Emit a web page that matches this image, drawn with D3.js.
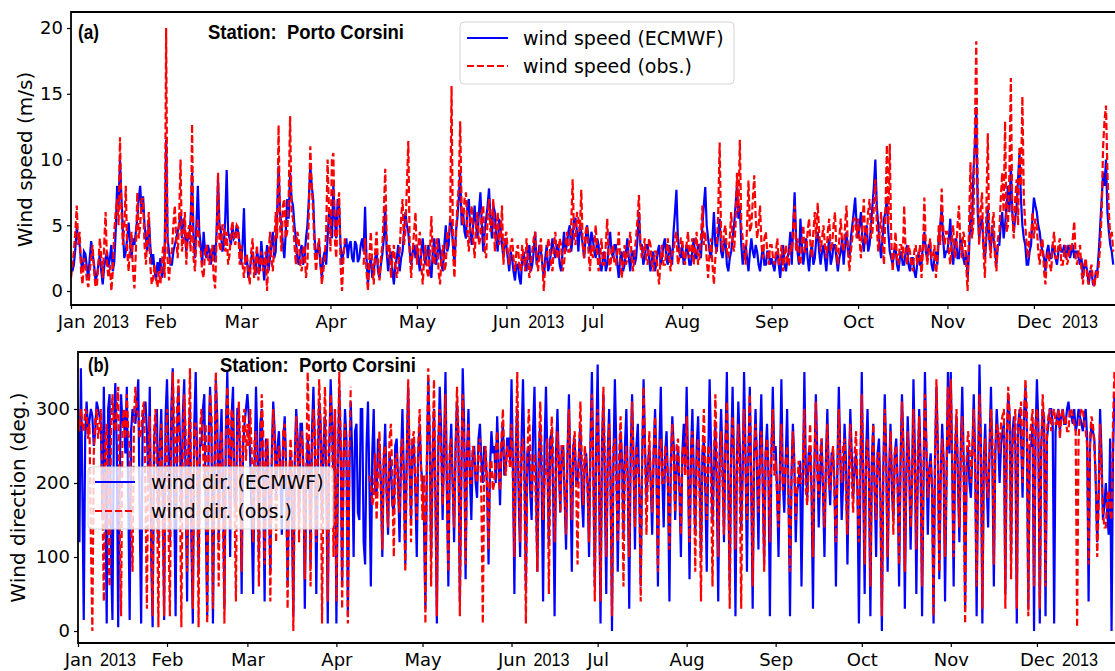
<!DOCTYPE html>
<html>
<head>
<meta charset="utf-8">
<script src="https://d3js.org/d3.v7.min.js"></script>
<style>
body { margin: 0; background: #fff; }
svg { display: block; }
</style>
</head>
<body>
<script>
// 12-hourly values, 1 Jan - 28 Dec 2013 (one row per month)
var speedEcmwf = [
 2.5,1.5,2.0,3.2,4.8,4.0,3.5,2.2,1.5,3.0,2.8,1.8,1.0,2.5,3.8,2.8,2.0,0.8,1.2,2.0,2.8,1.5,0.5,1.8,2.5,3.0,1.8,2.5,3.5,1.5,2.2,4.5,8.0,6.5,10.0,7.0,4.5,2.5,3.0,4.0,5.2,3.5,2.5,4.0,3.5,4.5,5.5,7.0,8.0,6.0,7.2,5.0,4.0,3.0,5.5,3.5,2.0,2.8,1.5,0.8,2.2,1.5,
 2.5,1.0,1.5,3.0,11.5,4.0,3.0,2.0,2.0,3.0,3.5,4.0,4.5,5.0,6.0,4.0,5.5,4.5,3.0,4.0,4.0,5.5,9.0,4.0,2.5,5.0,8.0,4.5,3.5,2.0,4.5,3.0,2.5,3.5,3.0,2.0,2.8,3.5,2.2,4.5,8.5,5.0,4.5,3.0,3.5,5.5,9.2,4.5,4.0,3.5,5.0,4.0,4.2,5.0,4.5,3.5,
 2.0,3.5,6.3,2.0,2.5,1.0,1.5,2.5,3.0,2.0,1.2,3.0,2.5,1.5,3.8,2.5,0.8,2.0,3.5,1.5,2.5,3.5,4.5,2.5,3.0,6.0,9.5,6.0,5.0,3.5,2.5,4.5,7.0,5.5,9.0,7.0,6.5,5.0,4.0,2.5,2.0,3.0,3.5,2.0,2.5,4.0,5.0,7.0,9.5,8.0,7.0,4.0,2.5,3.0,3.8,2.0,1.0,2.5,3.0,2.0,4.0,6.0,
 5.5,4.0,8.0,5.5,4.0,7.0,6.5,3.5,2.0,3.0,3.5,4.0,2.5,3.5,3.8,2.5,2.2,3.8,3.5,2.2,2.5,3.5,4.0,3.0,6.4,2.5,0.5,2.0,2.5,1.0,1.5,2.5,3.0,1.5,1.0,2.0,2.8,4.0,6.5,3.0,1.5,2.5,3.0,1.5,0.5,2.0,2.5,3.5,1.5,2.5,3.0,4.5,6.0,5.0,4.5,3.0,2.0,3.0,3.5,2.5,
 3.5,2.5,1.5,3.0,4.0,2.5,2.0,3.0,3.5,1.5,1.0,3.0,4.0,2.0,2.5,4.0,3.0,2.0,1.5,3.5,5.0,3.0,3.5,5.5,5.0,3.5,2.0,4.5,5.5,7.0,9.0,5.0,6.0,4.5,4.0,6.5,7.0,4.5,3.5,5.0,6.5,5.0,4.0,6.0,7.5,5.0,3.0,4.5,5.5,6.5,7.8,5.5,4.0,6.5,6.0,4.0,3.0,5.5,5.0,3.5,2.5,4.0,
 3.5,2.5,1.5,3.0,2.5,1.5,0.8,2.0,2.0,1.0,0.5,2.5,3.0,2.0,1.5,3.0,3.5,1.5,2.0,3.0,4.5,2.0,2.5,3.5,3.0,2.0,1.0,2.5,3.5,1.5,2.0,3.0,4.0,3.0,2.5,3.5,3.5,2.0,1.5,3.0,4.5,3.0,3.5,4.5,5.0,3.0,4.0,5.5,5.5,4.5,3.0,5.0,4.5,3.5,2.5,4.0,5.0,4.0,3.0,4.5,
 4.0,3.0,2.5,4.0,3.5,2.0,1.5,2.5,3.0,1.5,2.0,3.5,4.5,3.0,2.5,3.5,3.5,2.0,1.0,2.5,3.0,1.5,2.0,3.0,4.0,2.5,1.5,3.0,3.0,2.0,2.5,4.0,6.0,3.5,3.5,2.0,2.5,3.5,3.5,2.5,1.5,2.5,3.0,1.5,2.0,3.0,3.5,2.0,2.5,3.5,4.0,2.5,2.0,3.5,3.0,2.0,4.5,6.0,7.7,4.0,3.0,2.5,
 3.5,2.0,2.5,3.5,3.0,2.0,2.0,3.0,4.0,2.5,2.5,3.5,3.5,2.5,5.0,6.5,7.9,5.0,4.0,3.0,2.5,4.0,6.0,3.5,3.0,4.5,5.5,3.0,2.5,3.5,4.0,2.0,1.5,2.5,3.0,4.0,5.0,6.5,8.0,5.5,6.5,3.5,2.0,3.0,3.5,2.5,1.5,3.0,4.0,3.0,2.5,3.5,3.0,2.0,1.5,2.5,3.5,2.0,2.0,3.0,3.0,2.0,
 2.5,2.0,1.5,2.5,3.0,2.0,1.0,2.5,3.5,2.0,1.5,2.5,3.0,4.5,2.0,5.0,7.5,4.0,3.0,2.0,5.5,3.5,2.0,3.0,4.0,2.5,1.5,3.0,3.5,2.0,2.5,4.0,4.5,3.0,2.0,3.0,3.5,2.5,1.5,3.0,4.0,2.0,2.5,3.5,3.5,2.5,1.5,2.5,3.0,4.0,2.0,3.5,4.5,3.0,2.5,4.0,5.0,6.0,7.1,5.0,
 4.0,5.0,6.0,4.0,3.0,4.5,5.0,3.0,3.5,5.0,6.5,8.0,10.0,6.5,5.0,3.5,2.5,4.0,5.5,6.0,7.0,4.5,3.0,2.5,2.0,3.0,3.5,2.0,1.5,2.5,3.0,2.0,2.0,3.0,3.5,2.0,1.5,2.5,2.5,1.5,1.0,2.0,3.0,2.0,2.0,3.5,4.5,3.0,2.5,3.5,3.5,2.0,1.5,2.5,3.0,2.0,4.0,5.0,6.3,4.0,2.5,3.0,
 3.0,4.0,5.5,3.0,2.0,3.5,4.0,2.5,2.5,4.0,3.5,2.5,2.0,3.0,1.0,3.0,6.0,4.5,9.0,11.0,14.0,6.0,4.0,5.0,5.5,3.5,2.5,4.0,6.5,4.0,3.0,5.0,4.0,3.0,2.0,3.5,3.5,5.0,6.0,4.0,5.0,6.5,8.0,6.0,9.5,6.0,4.5,5.5,6.5,8.5,10.5,7.0,5.0,4.0,3.5,2.0,2.0,3.0,3.5,5.5,
 7.1,6.5,6.0,5.0,4.5,3.5,3.0,2.5,1.5,3.0,3.5,2.5,2.5,3.5,3.0,2.5,2.0,3.0,3.5,3.0,3.0,3.5,2.5,3.0,3.5,2.5,3.0,3.5,2.5,3.0,3.0,2.5,2.0,2.5,1.0,2.0,2.0,1.5,0.5,1.5,1.5,0.5,0.5,1.5,1.5,3.0,5.0,7.0,9.0,8.0,10.0,6.0,4.5,3.5,3.0,2.0
];
var speedObs = [
 1.0,2.0,3.0,4.5,6.5,3.5,4.5,1.5,0.5,2.5,2.0,0.8,0.3,1.5,2.5,3.5,1.5,0.3,0.5,2.0,4.0,2.5,1.0,3.5,6.0,2.0,1.0,2.0,0.0,1.5,4.5,6.0,7.0,5.0,11.7,6.0,3.5,5.0,8.0,3.0,1.5,3.5,4.5,1.5,0.2,3.0,7.5,4.0,5.0,7.0,7.0,3.5,2.0,4.5,6.0,2.0,0.5,1.0,2.0,1.0,0.3,1.5,
 0.5,2.0,3.5,1.0,20.0,2.5,0.8,2.5,3.0,5.0,6.5,4.0,2.5,5.5,10.0,3.0,4.0,6.0,2.0,4.5,5.0,3.0,12.7,2.5,1.5,4.0,5.5,3.5,3.0,1.5,1.0,3.0,3.5,2.5,2.0,3.0,3.5,1.0,0.2,4.0,9.0,3.5,3.0,5.0,5.0,3.0,4.5,2.0,2.8,4.5,5.3,4.0,3.5,5.0,4.8,2.0,
 3.5,2.0,1.0,2.5,2.8,1.5,0.5,3.0,4.0,1.0,2.0,3.5,0.8,2.0,3.0,1.5,2.0,3.0,0.0,2.5,4.5,2.5,1.5,3.5,6.0,4.0,12.6,5.0,3.0,6.5,7.0,4.0,4.5,7.0,13.3,6.0,5.5,3.5,2.0,4.5,4.0,2.0,1.5,3.0,3.5,1.0,2.0,6.0,11.0,8.0,6.0,3.0,1.5,3.0,4.0,2.5,0.5,1.5,2.5,4.5,10.0,6.0,
 3.0,10.0,10.5,4.0,2.5,6.0,7.5,2.0,0.0,2.5,4.0,null,null,null,null,null,null,null,null,null,null,null,null,2.0,4.0,1.5,0.0,2.5,4.5,2.0,0.5,3.0,4.5,2.0,0.8,2.5,3.5,6.0,9.3,4.0,2.5,3.5,1.0,2.5,3.5,2.0,1.0,2.0,3.0,5.5,7.0,3.5,4.5,8.0,11.4,3.0,1.0,3.0,4.5,6.0,
 2.0,3.5,4.5,2.0,0.5,2.5,3.5,1.5,1.0,3.0,5.7,2.5,2.0,3.5,4.0,1.5,0.5,2.5,3.5,1.5,2.0,4.5,4.0,5.0,15.6,3.0,1.0,4.0,6.5,8.0,12.9,6.0,5.0,7.0,7.5,4.5,3.0,5.5,6.5,4.0,2.5,5.0,6.0,3.5,4.0,6.0,6.5,3.0,2.5,5.5,7.0,4.5,5.5,7.0,3.0,4.5,6.0,3.5,4.0,6.5,2.0,4.0,
 4.5,3.0,2.0,3.5,4.0,2.5,1.5,3.0,3.5,2.0,1.5,3.5,2.5,1.5,4.0,2.5,1.0,2.0,3.0,4.0,4.5,2.5,1.5,3.0,4.0,2.0,0.0,2.0,2.5,4.0,3.5,2.0,1.5,3.5,4.5,2.5,2.5,4.0,3.5,1.5,2.0,3.5,4.5,3.0,3.0,5.0,8.5,4.0,3.5,6.0,5.5,4.5,7.7,3.5,2.5,4.5,5.0,3.0,1.5,3.5,
 2.5,3.5,5.0,3.0,1.5,2.5,4.0,2.0,2.0,3.5,5.5,2.5,1.5,3.0,3.5,2.0,2.0,3.0,4.5,2.5,1.0,2.0,3.5,2.0,2.5,3.5,4.5,2.5,1.5,3.0,4.0,5.5,7.3,3.5,2.5,3.0,4.0,2.5,2.0,4.0,3.5,2.0,1.5,3.0,3.0,1.5,0.5,2.5,3.5,2.0,2.0,3.0,4.0,2.5,1.5,3.0,3.0,4.0,4.5,2.0,2.5,4.0,
 4.0,2.5,2.0,3.5,4.5,2.5,3.0,4.0,2.0,3.5,4.5,2.0,2.5,4.0,6.5,3.5,4.5,2.5,1.0,3.0,4.0,2.0,0.5,2.5,3.5,6.0,11.3,4.0,3.0,4.5,5.0,3.0,2.5,4.0,6.0,3.5,3.0,5.0,9.0,6.0,11.5,5.0,4.0,3.0,2.0,5.0,8.4,4.5,5.0,7.0,8.8,5.5,4.0,5.0,6.5,3.5,2.5,4.0,4.5,3.0,2.0,3.5,
 3.5,2.5,2.0,3.0,4.0,2.0,2.5,3.5,1.5,2.5,3.5,2.0,2.0,3.5,3.0,5.0,6.5,3.0,4.0,2.5,2.0,3.5,5.0,3.0,3.0,4.5,5.5,3.5,2.5,4.5,6.0,4.0,6.7,4.5,3.0,4.0,5.0,3.5,2.5,4.5,5.5,3.0,3.5,5.0,6.0,3.0,2.0,4.0,5.5,3.5,3.0,5.0,6.5,3.0,1.5,3.0,4.0,5.5,5.5,4.0,
 5.5,4.0,2.5,5.0,7.0,3.5,4.0,6.0,7.0,4.0,4.5,6.5,8.5,5.0,3.0,4.5,6.0,3.5,2.0,6.0,11.1,5.0,11.2,4.0,1.5,3.0,4.5,2.5,2.0,3.5,3.5,2.5,6.5,3.0,2.0,3.5,3.0,2.0,1.5,3.0,3.5,2.0,2.5,3.5,1.0,3.0,7.1,3.5,2.0,3.0,4.0,2.5,2.5,3.5,1.0,2.5,5.0,3.5,7.8,5.0,3.5,4.5,
 4.5,3.0,2.0,4.0,5.0,2.5,3.0,5.0,6.5,3.5,2.5,4.5,4.0,2.0,0.0,5.0,9.8,4.0,5.0,12.0,19.0,8.0,3.5,6.0,7.5,3.0,1.0,6.0,12.0,4.0,2.5,5.0,6.0,2.5,1.5,4.0,4.5,7.0,9.0,6.0,12.9,4.5,5.0,9.0,16.2,6.0,4.0,7.0,8.5,5.0,11.0,8.0,14.8,7.0,5.0,3.5,2.5,4.5,4.0,6.0,
 4.0,5.5,5.0,3.0,2.0,3.5,4.0,1.5,0.5,2.5,3.0,2.0,1.5,3.5,4.5,2.5,2.5,3.5,4.0,2.0,2.0,3.0,3.5,2.0,2.5,3.5,3.0,4.0,5.3,2.5,2.0,3.0,3.5,1.5,0.5,2.0,2.5,1.0,0.5,1.5,2.0,0.8,0.3,1.5,1.0,2.0,3.5,6.0,11.0,13.0,14.1,9.0,6.0,4.0,4.5,3.0
];
var dirEcmwf = [
 300,120,355,200,15,260,310,270,285,300,290,250,270,310,300,290,280,150,330,200,10,300,320,100,15,280,335,250,5,200,320,280,290,240,330,180,15,270,300,290,280,310,340,150,10,280,300,310,270,200,330,100,5,260,280,300,120,250,300,200,15,290,
 340,250,120,300,355,180,20,270,330,260,150,290,340,200,40,250,300,120,10,280,350,230,80,260,250,300,320,150,20,260,330,270,10,200,340,290,120,250,300,200,30,270,350,240,100,290,330,180,160,300,300,220,50,250,280,300,
 320,290,230,150,50,220,330,250,100,280,300,200,40,260,250,180,80,240,310,270,180,250,270,210,130,260,290,220,60,200,240,160,20,230,300,260,150,280,280,220,30,200,260,240,90,270,330,250,50,210,310,280,150,250,290,200,10,240,340,280,200,300,
 10,200,330,250,60,230,300,260,20,210,310,240,100,270,280,160,150,300,300,120,90,250,310,200,60,240,300,190,180,260,250,200,100,230,280,190,130,240,220,170,160,250,260,200,120,230,300,210,90,240,330,220,150,260,250,190,100,240,280,220,
 200,150,30,220,340,260,100,230,300,180,10,240,330,270,150,250,350,190,60,230,280,200,120,250,310,260,40,200,355,280,70,240,300,210,150,240,250,200,180,260,280,230,200,250,240,190,90,220,270,240,250,200,290,230,170,250,280,210,220,260,260,230,
 340,220,50,250,300,180,100,260,340,230,60,240,250,190,150,270,330,210,80,240,280,200,40,250,330,230,120,260,270,190,20,240,300,220,160,250,250,180,110,240,320,210,80,250,260,200,200,240,280,180,140,230,240,200,100,260,350,220,60,250,
 360,200,10,250,320,190,50,240,300,210,0,230,340,250,80,200,270,230,130,250,300,200,30,240,320,230,110,250,280,190,60,230,340,250,180,220,250,200,130,240,300,220,60,250,330,210,140,240,270,200,40,230,290,250,150,220,250,190,100,240,280,220,
 330,220,70,240,300,200,130,250,290,210,100,240,260,190,80,230,340,250,150,220,280,190,40,240,300,230,120,250,350,200,60,240,330,220,20,230,310,250,140,210,350,240,80,230,330,200,30,240,300,220,110,250,320,200,90,240,280,210,20,230,330,240,
 250,190,100,220,340,200,160,230,300,180,20,210,280,230,120,190,200,230,60,200,350,220,180,240,250,190,30,220,320,240,140,210,260,190,100,230,300,210,170,240,240,200,60,220,330,240,150,200,280,230,90,210,300,240,180,220,240,190,10,200,
 350,200,50,240,300,210,20,230,280,190,100,240,260,180,0,220,320,240,80,210,280,190,150,240,260,200,60,230,320,250,30,210,290,230,110,200,340,240,50,210,300,230,20,200,350,250,130,220,240,190,10,230,330,250,70,210,280,230,40,200,350,240,
 350,220,60,240,290,200,120,250,330,230,30,220,250,200,180,240,320,230,20,210,360,250,10,230,280,200,140,250,330,220,60,240,300,260,200,250,270,280,50,260,320,290,100,270,290,250,10,280,300,260,180,290,330,270,30,250,250,280,0,260,
 340,280,10,250,300,290,20,260,280,300,300,280,10,270,290,300,270,290,300,280,280,300,310,290,290,280,300,270,280,300,290,280,270,290,300,260,40,250,280,270,260,200,120,180,300,240,150,170,200,160,130,260,0,240,320,300
];
var dirObs = [
 290,270,300,280,270,300,295,260,280,120,0,240,285,300,260,280,300,180,40,260,280,130,60,270,320,280,270,300,330,150,20,280,300,260,320,270,250,150,80,290,330,300,290,260,270,300,310,180,30,250,290,120,20,270,300,200,5,240,280,150,20,250,
 300,150,20,260,350,280,150,300,340,200,5,250,320,270,80,240,355,160,30,280,280,220,5,270,300,250,200,280,10,230,320,290,30,200,350,260,60,240,270,150,10,260,330,280,140,300,290,180,40,260,310,250,80,290,300,230,
 280,250,300,240,120,260,270,200,60,230,320,270,90,250,260,190,40,220,300,260,120,240,250,200,200,270,280,210,30,190,260,230,0,200,290,250,120,260,270,220,70,210,350,260,60,230,300,270,120,250,340,280,10,220,330,260,40,240,320,270,100,300,
 40,220,350,260,30,240,280,220,10,230,330,null,null,null,null,null,null,null,null,null,null,null,null,210,200,170,180,240,150,210,270,190,110,240,250,180,140,260,280,200,100,230,240,180,160,250,260,190,80,220,340,240,120,260,270,200,150,250,300,220,
 150,210,10,230,355,270,60,240,340,190,20,260,300,240,170,230,320,180,80,250,260,200,140,230,330,270,20,220,320,250,90,230,280,200,200,250,240,210,200,250,260,180,10,220,250,200,110,230,230,190,200,240,270,210,190,260,300,230,210,250,240,220,
 280,200,100,240,350,210,120,250,260,190,10,230,300,250,180,220,240,170,80,230,310,240,150,200,220,260,50,210,290,240,120,200,270,230,160,250,250,190,130,240,300,220,150,250,270,200,90,240,310,230,170,250,230,190,120,240,320,210,40,230,
 300,210,40,230,330,240,100,220,280,190,20,250,260,200,120,240,290,210,60,230,250,200,100,240,310,220,140,250,230,190,40,230,330,240,130,210,270,200,160,240,290,220,80,240,260,200,200,250,240,190,110,230,280,220,160,250,260,200,130,240,250,210,
 290,200,120,240,270,210,80,230,260,190,40,240,300,220,150,250,250,200,60,230,320,240,100,220,270,200,130,250,310,210,30,230,290,240,110,220,280,200,30,240,300,220,150,250,320,210,60,230,280,240,160,220,270,200,80,240,260,220,120,250,300,210,
 230,180,140,210,280,190,200,230,250,170,80,200,270,220,150,190,230,200,200,230,300,190,170,220,280,200,100,230,310,210,180,240,260,190,140,220,280,200,190,230,250,180,120,210,300,230,200,250,260,190,130,220,280,200,160,240,270,190,120,230,
 320,220,90,230,260,200,60,220,280,190,150,240,240,180,20,210,300,230,100,200,270,220,130,240,250,190,90,220,310,240,80,200,270,230,140,190,300,220,110,240,290,200,60,220,320,250,180,210,230,190,20,230,340,240,80,200,260,230,100,210,330,250,
 340,230,100,250,300,210,140,240,290,200,10,230,270,250,200,240,300,220,60,230,320,250,30,220,260,200,180,240,300,260,90,240,280,270,240,280,290,300,30,260,330,290,70,250,270,300,30,270,290,310,200,280,340,300,20,260,280,300,60,280,
 300,270,30,240,320,280,60,270,290,300,270,290,300,280,280,300,260,290,300,280,290,270,270,300,300,290,280,270,5,260,290,300,300,280,270,250,90,260,290,280,250,210,100,170,280,220,160,140,140,180,190,160,150,280,350,330
];
var speedTicks = [0, 5, 10, 15, 20];
var dirTicks = [0, 100, 200, 300];
var yearLabelMonths = [0, 5, 11];

var width = 1115,
	height = 671;

var svg = d3.select("body").append("svg")
		.attr("width", width)
		.attr("height", height);

var start = new Date(2013, 0, 1),
	end = new Date(2014, 0, 1),
	months = d3.timeMonth.range(start, end);

function drawPanel(p){
	var x = d3.scaleTime().domain([start, end]).range([p.left, p.left + 365 * p.dayPx]),
		y = d3.scaleLinear().domain(p.yDomain).range([p.bottom, p.top]);
	var g = svg.append("g");

	g.append("clipPath").attr("id", "clip" + p.tag)
		.append("rect")
		.attr("x", p.left).attr("y", p.top)
		.attr("width", width - p.left).attr("height", p.bottom - p.top);

	var line = d3.line()
		.defined(function(d){ return d[1] != null; })
		.x(function(d){ return x(d[0]); })
		.y(function(d){ return y(d[1]); });

	function series(vals){
		return vals.map(function(v, i){ return [d3.timeHour.offset(start, 12 * i), v]; });
	}

	g.append("path")
		.datum(series(p.model))
		.attr("d", line)
		.attr("clip-path", "url(#clip" + p.tag + ")")
		.attr("fill", "none")
		.attr("stroke", "#0000ff")
		.attr("stroke-width", 2.2);

	g.append("path")
		.datum(series(p.obs))
		.attr("d", line)
		.attr("clip-path", "url(#clip" + p.tag + ")")
		.attr("fill", "none")
		.attr("stroke", "#ff0000")
		.attr("stroke-width", 2.2)
		.attr("stroke-dasharray", "7,3");

	// frame (right side runs off the picture)
	g.append("path")
		.attr("d", "M" + (width + 5) + "," + p.top + "H" + p.left + "V" + p.bottom + "H" + (width + 5))
		.attr("fill", "none")
		.attr("stroke", "#000")
		.attr("stroke-width", 1.8);

	var xAxis = g.append("g")
		.attr("transform", "translate(0," + p.bottom + ")")
		.call(d3.axisBottom(x).tickValues(months).tickFormat(d3.timeFormat("%b")).tickSize(4));
	xAxis.select(".domain").remove();
	xAxis.selectAll("line").attr("stroke", "#000").attr("stroke-width", 1.2);
	xAxis.selectAll("text")
		.attr("y", 23).attr("dy", null)
		.attr("fill", "#000")
		.style("font-family", "'DejaVu Sans'")
		.style("font-size", "18px");

	yearLabelMonths.forEach(function(m){
		g.append("text")
			.attr("x", x(months[m]) + (m == 11 ? p.decShift : 22))
			.attr("y", p.bottom + 23)
			.attr("textLength", 36)
			.attr("lengthAdjust", "spacingAndGlyphs")
			.style("font-family", "'Liberation Sans', Arial")
			.style("font-size", "18px")
			.text("2013");
	});

	var yAxis = g.append("g")
		.attr("transform", "translate(" + p.left + ",0)")
		.call(d3.axisLeft(y).tickValues(p.ticks).tickSize(4).tickPadding(4));
	yAxis.select(".domain").remove();
	yAxis.selectAll("line").attr("stroke", "#000").attr("stroke-width", 1.2);
	yAxis.selectAll("text")
		.attr("fill", "#000")
		.style("font-family", "'DejaVu Sans'")
		.style("font-size", "18px");

	g.append("text")
		.attr("transform", "translate(" + p.ylabelX + "," + ((p.top + p.bottom) / 2 + p.ylabelShift) + ") rotate(-90)")
		.attr("text-anchor", "middle")
		.attr("dy", "0.35em")
		.style("font-family", "'DejaVu Sans'")
		.style("font-size", "20px")
		.text(p.ylabel);

	g.append("text")
		.attr("x", p.tagX).attr("y", p.titleY)
		.attr("textLength", 21).attr("lengthAdjust", "spacingAndGlyphs")
		.style("font-family", "'Liberation Sans', Arial")
		.style("font-weight", "bold")
		.style("font-size", "20px")
		.text("(" + p.tag + ")");

	g.append("text")
		.attr("x", p.titleX).attr("y", p.titleY)
		.attr("textLength", 196).attr("lengthAdjust", "spacingAndGlyphs")
		.style("font-family", "'Liberation Sans', Arial")
		.style("font-weight", "bold")
		.style("font-size", "20px")
		.text("Station:\u00a0 Porto Corsini");

	// legend
	var L = p.legend;
	g.append("rect")
		.attr("x", L.x).attr("y", L.y)
		.attr("width", L.w).attr("height", L.h)
		.attr("rx", 4)
		.attr("fill", "#fff").attr("fill-opacity", 0.8)
		.attr("stroke", "#d4d4d4");
	L.labels.forEach(function(lab, i){
		var ly = L.y + L.first + i * L.step;
		g.append("line")
			.attr("x1", L.x + 7).attr("x2", L.x + 7 + L.len)
			.attr("y1", ly).attr("y2", ly)
			.attr("stroke", i == 0 ? "#0000ff" : "#ff0000")
			.attr("stroke-width", 2)
			.attr("stroke-dasharray", i == 0 ? null : "7,3");
		g.append("text")
			.attr("x", L.x + L.textDx).attr("y", ly)
			.attr("dy", "0.36em")
			.style("font-family", "'DejaVu Sans'")
			.style("font-size", "19px")
			.text(lab);
	});
}

drawPanel({
	tag: "a", left: 71, top: 12, bottom: 305, dayPx: 2.883,
	yDomain: [-1.065, 21.22], ticks: speedTicks,
	model: speedEcmwf, obs: speedObs,
	ylabel: "Wind speed (m/s)", ylabelX: 25, ylabelShift: 1,
	tagX: 78, titleX: 208, titleY: 39, decShift: 28,
	legend: {x: 460, y: 22, w: 274, h: 62, first: 16, step: 28, len: 41, textDx: 63,
		labels: ["wind speed (ECMWF)", "wind speed (obs.)"]}
});

drawPanel({
	tag: "b", left: 78, top: 352, bottom: 643, dayPx: 2.871,
	yDomain: [-16.2, 377], ticks: dirTicks,
	model: dirEcmwf, obs: dirObs,
	ylabel: "Wind direction (deg.)", ylabelX: 18, ylabelShift: 0,
	tagX: 88, titleX: 220, titleY: 372, decShift: 25,
	legend: {x: 88, y: 467, w: 245, h: 62, first: 15, step: 29, len: 40, textDx: 63,
		labels: ["wind dir. (ECMWF)", "wind dir. (obs.)"]}
});
</script>
</body>
</html>
